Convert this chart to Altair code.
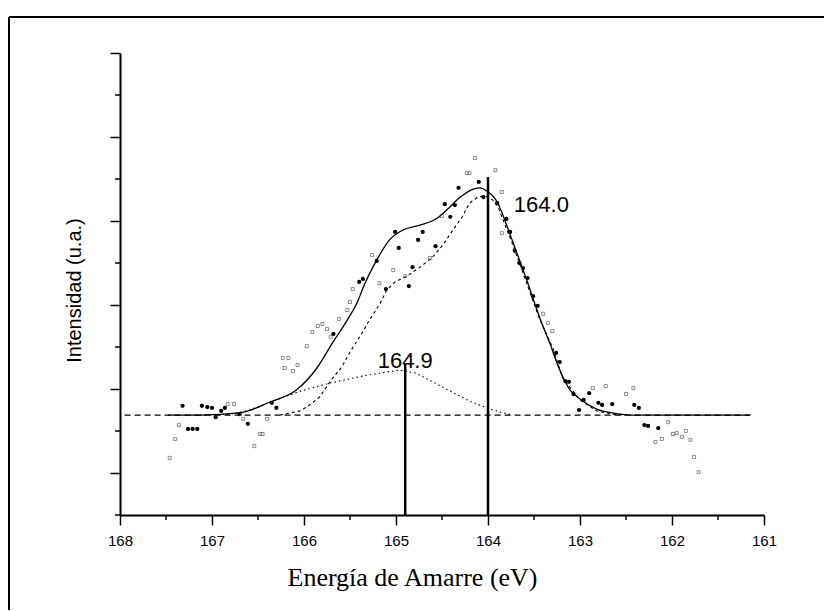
import altair as alt
import pandas as pd

# ---- data (binding energy in eV, intensity in arbitrary units) ----
filled_E = [167.32, 167.26, 167.21, 167.16, 167.11, 167.05, 167.00, 166.96, 166.90, 166.86,
            166.70, 166.61, 166.35, 166.30, 165.68, 165.40, 165.36, 165.21, 165.11, 165.01,
            164.97, 164.86, 164.82, 164.76, 164.71, 164.57, 164.47, 164.41, 164.36, 164.32,
            164.10, 164.05, 163.90, 163.80, 163.76, 163.71, 163.66, 163.62, 163.57, 163.51,
            163.46, 163.26, 163.22, 163.16, 163.12, 163.07, 163.01, 162.96, 162.90, 162.80,
            162.76, 162.65, 162.41, 162.36, 162.30, 162.26, 162.15]
filled_I = [2.60, 2.05, 2.05, 2.05, 2.60, 2.57, 2.55, 2.33, 2.48, 2.55,
            2.40, 2.17, 2.67, 2.55, 4.31, 5.55, 5.62, 6.05, 5.38, 6.74,
            6.36, 5.45, 5.90, 6.55, 6.74, 6.40, 7.40, 7.10, 7.38, 7.79,
            7.93, 7.57, 7.43, 7.05, 6.74, 6.29, 6.00, 5.88, 5.64, 5.21,
            4.98, 3.86, 3.64, 3.19, 3.17, 2.88, 2.50, 2.74, 2.90, 2.67,
            2.62, 2.64, 2.62, 2.55, 2.14, 2.12, 2.07]

open_E = [167.46, 167.40, 167.36, 166.83, 166.76, 166.66, 166.54, 166.48, 166.45, 166.40,
          166.23, 166.17, 166.21, 166.12, 166.07, 165.97, 165.91, 165.85, 165.80, 165.75,
          165.71, 165.62, 165.53, 165.50, 165.47, 165.26, 165.18, 165.03, 164.90, 164.63,
          164.50, 164.23, 164.20, 164.14, 163.92, 163.85, 163.85, 163.40, 163.35, 163.30,
          162.86, 162.72, 162.50, 162.42, 162.18, 162.11, 162.04, 161.99, 161.95, 161.89,
          161.85, 161.80, 161.76, 161.71]
open_I = [1.36, 1.81, 2.14, 2.64, 2.64, 2.29, 1.64, 1.93, 1.93, 2.29,
          3.74, 3.74, 3.50, 3.43, 3.57, 4.02, 4.36, 4.50, 4.55, 4.43,
          4.24, 4.67, 4.88, 5.07, 5.38, 6.19, 5.52, 5.83, 5.69, 6.12,
          7.12, 8.14, 8.14, 8.50, 8.21, 7.69, 6.71, 4.79, 4.57, 4.38,
          3.02, 3.07, 2.88, 3.02, 1.74, 1.81, 2.21, 1.93, 1.95, 1.86,
          2.00, 1.79, 1.38, 1.02]

fit_E = [167.48, 167.13, 166.70, 166.37, 166.08, 165.86, 165.69, 165.53, 165.41, 165.36,
         165.21, 165.07, 164.92, 164.74, 164.55, 164.45, 164.30, 164.16, 164.09, 164.01,
         163.90, 163.87, 163.73, 163.58, 163.44, 163.33, 163.22, 163.11, 163.00, 162.82,
         162.65, 162.46, 161.15]
fit_I = [2.38, 2.38, 2.43, 2.69, 2.98, 3.50, 4.10, 4.64, 5.12, 5.40,
         6.07, 6.55, 6.79, 6.90, 7.07, 7.26, 7.57, 7.76, 7.79, 7.71,
         7.45, 7.31, 6.50, 5.60, 4.71, 4.10, 3.45, 2.98, 2.76, 2.52,
         2.43, 2.38, 2.38]

peak1_E = [166.26, 166.04, 165.94, 165.83, 165.69, 165.59, 165.50, 165.37, 165.30, 165.17,
           165.10, 165.01, 164.88, 164.74, 164.61, 164.49, 164.38, 164.28, 164.20, 164.11,
           164.03, 163.95, 163.89, 163.73, 163.58, 163.44, 163.29, 163.19, 163.00, 162.82,
           162.65, 162.51]
peak1_I = [2.38, 2.48, 2.62, 2.81, 3.26, 3.52, 3.88, 4.33, 4.60, 5.05,
           5.36, 5.55, 5.69, 5.90, 6.12, 6.43, 6.79, 7.10, 7.43, 7.57,
           7.60, 7.50, 7.33, 6.43, 5.52, 4.67, 3.95, 3.26, 2.74, 2.48,
           2.40, 2.38]

peak2_E = [167.13, 166.80, 166.59, 166.34, 166.04, 165.72, 165.36, 165.12, 164.96, 164.79,
           164.60, 164.41, 164.20, 164.01, 163.87, 163.73]
peak2_I = [2.38, 2.40, 2.50, 2.71, 2.95, 3.14, 3.31, 3.40, 3.45, 3.38,
           3.17, 2.95, 2.71, 2.55, 2.45, 2.38]

base_E = [167.95, 161.15]
base_I = [2.38, 2.38]

marker_E = [164.9, 164.0]
marker_top = [3.62, 8.05]
marker_bottom = [0, 0]

label_E = [163.42, 164.90]
label_I = [7.21, 3.50]
label_text = ["164.0", "164.9"]

x_major = [168, 167, 166, 165, 164, 163, 162, 161]
x_minor = [167.5, 166.5, 165.5, 164.5, 163.5, 162.5, 161.5]
y_major = [1, 3, 5, 7, 9, 11]
y_minor = [0, 2, 4, 6, 8, 10]

# ---- scales and axes ----
xs = alt.Scale(domain=[168, 161], nice=False, zero=False)
ys = alt.Scale(domain=[0, 11], nice=False, zero=False)

xaxis = alt.Axis(values=x_major, format="d", tickSize=10, tickWidth=1.5, tickColor="black",
                 domainColor="black", domainWidth=2, grid=False,
                 labelFont="Liberation Sans", labelFontSize=15, labelColor="black",
                 labelPadding=8, labelFlush=False, labelOverlap=False,
                 title="Energía de Amarre (eV)", titleFont="Liberation Serif",
                 titleFontSize=26, titleFontWeight="normal", titleColor="black",
                 titleX=292, titleY=70, titleAlign="center", titleBaseline="alphabetic")
yaxis = alt.Axis(values=y_major, labels=False, tickSize=10, tickWidth=1.5, tickColor="black",
                 domainColor="black", domainWidth=2, grid=False,
                 title="Intensidad (u.a.)", titleFont="Liberation Sans", titleFontSize=20,
                 titleFontWeight="normal", titleColor="black", titleAngle=270,
                 titleX=-40, titleY=237, titleAlign="center", titleBaseline="alphabetic")

X = lambda f="E": alt.X(f"{f}:Q", scale=xs, axis=xaxis)
Y = lambda f="I": alt.Y(f"{f}:Q", scale=ys, axis=yaxis)

df_filled = pd.DataFrame({"E": filled_E, "I": filled_I})
df_open = pd.DataFrame({"E": open_E, "I": open_I})
df_fit = pd.DataFrame({"E": fit_E, "I": fit_I})
df_p1 = pd.DataFrame({"E": peak1_E, "I": peak1_I})
df_p2 = pd.DataFrame({"E": peak2_E, "I": peak2_I})
df_base = pd.DataFrame({"E": base_E, "I": base_I})
df_mark = pd.DataFrame({"E": marker_E, "I": marker_bottom, "I2": marker_top})
df_lab = pd.DataFrame({"E": label_E, "I": label_I, "t": label_text})
df_xmin = pd.DataFrame({"E": x_minor})
df_ymin = pd.DataFrame({"I": y_minor})
df_one = pd.DataFrame({"a": [0]})

frame_left = alt.Chart(df_one).mark_rule(color="black", strokeWidth=2).encode(
    x=alt.value(-111), x2=alt.value(-111), y=alt.value(-36), y2=alt.value(560))
frame_top = alt.Chart(df_one).mark_rule(color="black", strokeWidth=2).encode(
    x=alt.value(-111), x2=alt.value(720), y=alt.value(-36))

base = alt.Chart(df_base).mark_line(color="black", strokeWidth=1.2, strokeDash=[6, 4]).encode(x=X(), y=Y())
p2 = alt.Chart(df_p2).mark_line(color="black", strokeWidth=1.1, strokeDash=[1.5, 3]).encode(x=X(), y=Y())
p1 = alt.Chart(df_p1).mark_line(color="black", strokeWidth=1.1, strokeDash=[3, 3]).encode(x=X(), y=Y())
fit = alt.Chart(df_fit).mark_line(color="black", strokeWidth=1.3, interpolate="monotone").encode(x=X(), y=Y())
marks = alt.Chart(df_mark).mark_rule(color="black", strokeWidth=2.5).encode(
    x=X(), y=Y(), y2=alt.Y2("I2:Q"))
opens = alt.Chart(df_open).mark_point(shape="square", size=9, filled=False, color="#333333",
                                      strokeWidth=0.8).encode(x=X(), y=Y())
dots = alt.Chart(df_filled).mark_circle(size=18, color="black", opacity=1).encode(x=X(), y=Y())
labels = alt.Chart(df_lab).mark_text(font="Liberation Sans", fontSize=22, align="center",
                                     baseline="alphabetic", color="black").encode(
    x=X(), y=Y(), text="t:N")
xminor = alt.Chart(df_xmin).mark_rule(color="black", strokeWidth=1.5).encode(
    x=X(), y=alt.value(462), y2=alt.value(467))
yminor = alt.Chart(df_ymin).mark_rule(color="black", strokeWidth=1.5).encode(
    y=Y(), x=alt.value(-5), x2=alt.value(0))

chart = alt.layer(
    frame_left, frame_top, base, p2, p1, fit, marks, opens, dots, labels, xminor, yminor
).properties(
    width=644, height=462,
    autosize=alt.AutoSizeParams(type="none"),
    padding={"left": 112, "top": 45, "right": 60, "bottom": 95},
    background="white",
).configure_view(stroke=None)

chart.save("out.html", embed_options={"renderer": "svg", "actions": False})
